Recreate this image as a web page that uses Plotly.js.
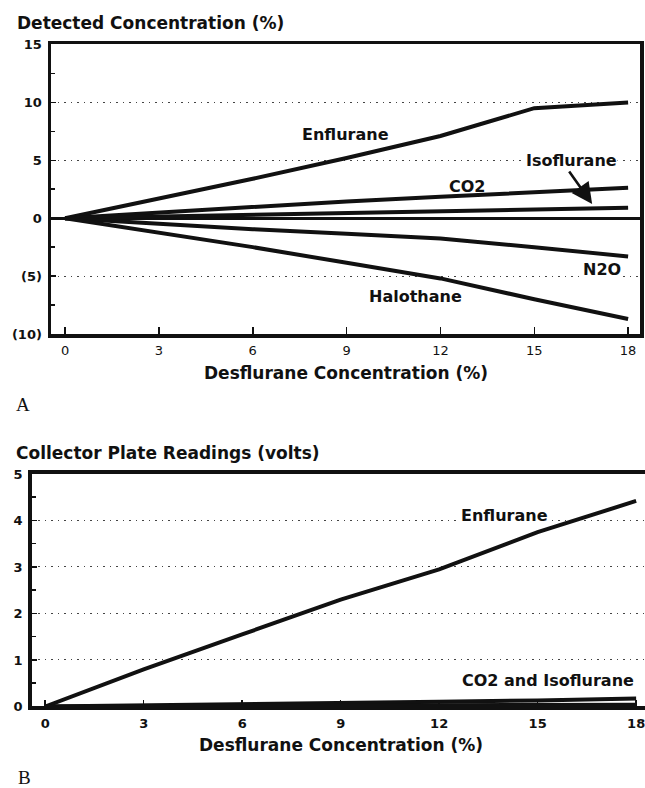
<!DOCTYPE html>
<html>
<head>
<meta charset="utf-8">
<script src="https://cdn.plot.ly/plotly-3.0.1.min.js"></script>
<style>
  html, body { margin: 0; padding: 0; background: #fff; overflow: hidden; }
  #chart { width: 645px; height: 788px; }
</style>
</head>
<body>
<div id="chart"></div>
<script>
// Desflurane concentration steps (%) shared by both panels
const desflurane = [0, 3, 6, 9, 12, 15, 18];

// Panel A: detected concentration (%) of each agent channel
const enfluraneA  = [0, 1.7, 3.4, 5.2, 7.1, 9.5, 10.0];
const co2A        = [0, 0.5, 1.0, 1.45, 1.85, 2.25, 2.63];
const isofluraneA = [0, 0.15, 0.3, 0.45, 0.6, 0.75, 0.9];
const n2oA        = [0, -0.5, -0.95, -1.35, -1.75, -2.5, -3.3];
const halothaneA  = [0, -1.25, -2.5, -3.85, -5.2, -7.0, -8.7];

// Panel B: collector plate readings (volts)
const enfluraneB  = [0, 0.8, 1.55, 2.3, 2.95, 3.75, 4.42];
const co2B        = [0, 0.02, 0.04, 0.07, 0.1, 0.13, 0.17];
const isofluraneB = [0, 0.01, 0.01, 0.02, 0.03, 0.03, 0.04];

// Tick labels
const xTicks = [0, 3, 6, 9, 12, 15, 18];
const yTicksA = [15, 10, 5, 0, -5, -10];
const yTickTextA = ['15', '10', '5', '0', '(5)', '(10)'];
const yTicksB = [0, 1, 2, 3, 4, 5];

const SANS = 'DejaVu Sans';
const ink = '#111';

function line(x, y, xa, ya) {
  return {
    x: x, y: y, xaxis: xa, yaxis: ya, type: 'scatter', mode: 'lines',
    line: { color: ink, width: 4 }, hoverinfo: 'skip', showlegend: false
  };
}

const traces = [
  line(desflurane, enfluraneA, 'x', 'y'),
  line(desflurane, co2A, 'x', 'y'),
  line(desflurane, isofluraneA, 'x', 'y'),
  line(desflurane, n2oA, 'x', 'y'),
  line(desflurane, halothaneA, 'x', 'y'),
  line(desflurane, enfluraneB, 'x2', 'y2'),
  line(desflurane, co2B, 'x2', 'y2'),
  line(desflurane, isofluraneB, 'x2', 'y2')
];

const gridDash = '1.5px,5px';
const boldFont = (size) => ({ family: SANS, size: size, color: ink, weight: 'bold' });

const layout = {
  width: 645, height: 788,
  margin: { l: 0, r: 0, t: 0, b: 0 },
  paper_bgcolor: '#fff', plot_bgcolor: '#fff',
  showlegend: false,
  font: { family: SANS, color: ink },

  xaxis: {
    domain: [0.07907, 0.99225], anchor: 'y',
    range: [-0.45, 18.38], tickmode: 'array', tickvals: xTicks,
    ticks: 'inside', ticklen: 7, tickwidth: 1.5, tickcolor: ink,
    tickfont: { family: SANS, size: 13, color: ink },
    ticklabelstandoff: 2, ticklabeloverflow: 'allow',
    showgrid: false, zeroline: false,
    showline: true, linecolor: ink, linewidth: 3.5, mirror: true,
    automargin: false, fixedrange: true
  },
  yaxis: {
    domain: [0.57614, 0.94353], anchor: 'x',
    range: [-10, 15], tickmode: 'array', tickvals: yTicksA, ticktext: yTickTextA,
    ticks: 'inside', ticklen: 5, tickwidth: 1.5, tickcolor: ink,
    tickfont: boldFont(13),
    ticklabelstandoff: 3, ticklabeloverflow: 'allow',
    showgrid: true, gridcolor: '#444', gridwidth: 1, griddash: gridDash,
    zeroline: true, zerolinecolor: ink, zerolinewidth: 3,
    minor: { tickmode: 'linear', tick0: 0, dtick: 2.5, ticks: 'inside', ticklen: 4, tickcolor: ink, showgrid: false },
    showline: true, linecolor: ink, linewidth: 3.5, mirror: true,
    automargin: false, fixedrange: true
  },

  xaxis2: {
    domain: [0.04915, 1], anchor: 'y2',
    range: [-0.41, 18.27], tickmode: 'array', tickvals: xTicks,
    ticks: 'inside', ticklen: 6, tickwidth: 1.5, tickcolor: ink,
    tickfont: boldFont(13),
    ticklabelstandoff: 2, ticklabeloverflow: 'allow',
    showgrid: false, zeroline: false,
    showline: true, linecolor: ink, linewidth: 3.5, mirror: true,
    automargin: false, fixedrange: true
  },
  yaxis2: {
    domain: [0.10343, 0.39848], anchor: 'x2',
    range: [0, 5], tickmode: 'array', tickvals: yTicksB,
    ticks: 'inside', ticklen: 5, tickwidth: 1.5, tickcolor: ink,
    tickfont: boldFont(13),
    ticklabelstandoff: 3, ticklabeloverflow: 'allow',
    showgrid: true, gridcolor: '#444', gridwidth: 1, griddash: gridDash,
    zeroline: false,
    minor: { tickmode: 'linear', tick0: 0, dtick: 0.5, ticks: 'inside', ticklen: 4, tickcolor: ink, showgrid: false },
    showline: true, linecolor: ink, linewidth: 3.5, mirror: false,
    automargin: false, fixedrange: true
  },

  annotations: [
    // Panel titles and axis titles
    { text: 'Detected Concentration (%)', xref: 'paper', yref: 'paper', x: 0.0233, y: 0.9708,
      xanchor: 'left', yanchor: 'middle', showarrow: false, font: boldFont(17) },
    { text: 'Desflurane Concentration (%)', xref: 'paper', yref: 'paper', x: 0.5372, y: 0.5266,
      xanchor: 'center', yanchor: 'middle', showarrow: false, font: boldFont(17) },
    { text: 'A', xref: 'paper', yref: 'paper', x: 0.0349, y: 0.4873,
      xanchor: 'center', yanchor: 'middle', showarrow: false,
      font: { family: 'Liberation Serif', size: 19, color: ink } },
    { text: 'Collector Plate Readings (volts)', xref: 'paper', yref: 'paper', x: 0.0217, y: 0.4251,
      xanchor: 'left', yanchor: 'middle', showarrow: false, font: boldFont(17) },
    { text: 'Desflurane Concentration (%)', xref: 'paper', yref: 'paper', x: 0.5287, y: 0.0546,
      xanchor: 'center', yanchor: 'middle', showarrow: false, font: boldFont(17) },
    { text: 'B', xref: 'paper', yref: 'paper', x: 0.038, y: 0.0127,
      xanchor: 'center', yanchor: 'middle', showarrow: false,
      font: { family: 'Liberation Serif', size: 19, color: ink } },

    // Series labels, panel A
    { text: 'Enflurane', xref: 'x', yref: 'y', x: 8.98, y: 7.19, showarrow: false, font: boldFont(16) },
    { text: 'CO2', xref: 'x', yref: 'y', x: 12.85, y: 2.78, showarrow: false, font: boldFont(16) },
    { text: 'Isoflurane', xref: 'x', yref: 'y', x: 16.18, y: 4.94, showarrow: false,
      bgcolor: '#fff', borderpad: 0, font: boldFont(16) },
    { text: '', xref: 'x', yref: 'y', x: 16.85, y: 1.23, ax: -24, ay: -34,
      showarrow: true, arrowhead: 2, arrowsize: 1.6, arrowwidth: 2.6, arrowcolor: ink },
    { text: 'N2O', xref: 'x', yref: 'y', x: 17.17, y: -4.47, showarrow: false,
      bgcolor: '#fff', borderpad: 0, font: boldFont(16) },
    { text: 'Halothane', xref: 'x', yref: 'y', x: 11.19, y: -6.72, showarrow: false, font: boldFont(16) },

    // Series labels, panel B
    { text: 'Enflurane', xref: 'x2', yref: 'y2', x: 13.98, y: 4.10, showarrow: false,
      bgcolor: '#fff', borderpad: 0, font: boldFont(16) },
    { text: 'CO2 and Isoflurane', xref: 'x2', yref: 'y2', x: 12.64, y: 0.55, xanchor: 'left',
      showarrow: false, font: boldFont(16) }
  ]
};

Plotly.newPlot('chart', traces, layout, { staticPlot: true, displayModeBar: false });
</script>
</body>
</html>
